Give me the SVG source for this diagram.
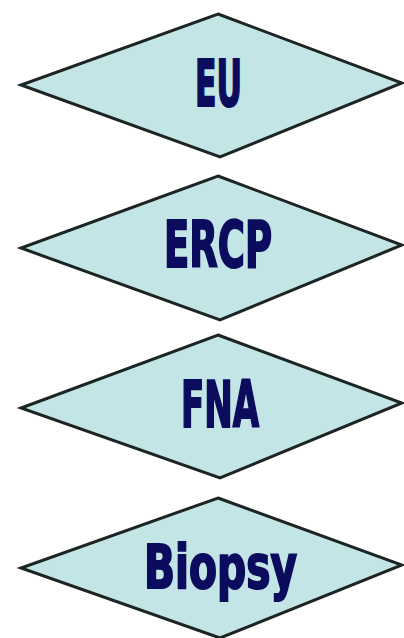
<svg xmlns="http://www.w3.org/2000/svg" width="404" height="638" viewBox="0 0 404 638">
<style>
.d{fill:#c3e5e5;stroke:#1c2424;stroke-width:3;stroke-linejoin:miter}
.t{font-family:"Liberation Sans Narrow","DejaVu Sans Condensed","Liberation Sans",sans-serif;font-weight:bold;font-size:64px;fill:#0c0c5e;stroke:#0c0c5e;stroke-width:2;stroke-linejoin:miter;text-anchor:start}
</style>
<rect width="404" height="638" fill="#ffffff"/>
<g id="node-eu">
<polygon class="d" points="218,14 402,83 220,157 21,85"/>
<text class="t" x="195" y="106" textLength="47" lengthAdjust="spacingAndGlyphs">EU</text>
</g>
<g id="node-ercp">
<polygon class="d" points="218,176 402,245 220,320 21,248"/>
<text class="t" x="164" y="267" textLength="108" lengthAdjust="spacingAndGlyphs">ERCP</text>
</g>
<g id="node-fna">
<polygon class="d" points="218,335 402,403 220,478 21,408"/>
<text class="t" x="181" y="427" textLength="78" lengthAdjust="spacingAndGlyphs">FNA</text>
</g>
<g id="node-biopsy">
<polygon class="d" points="218,498 402,565 220,638 21,568"/>
<text class="t" x="144" y="588" textLength="153" lengthAdjust="spacingAndGlyphs" style="font-size:60px">Biopsy</text>
</g>
</svg>
